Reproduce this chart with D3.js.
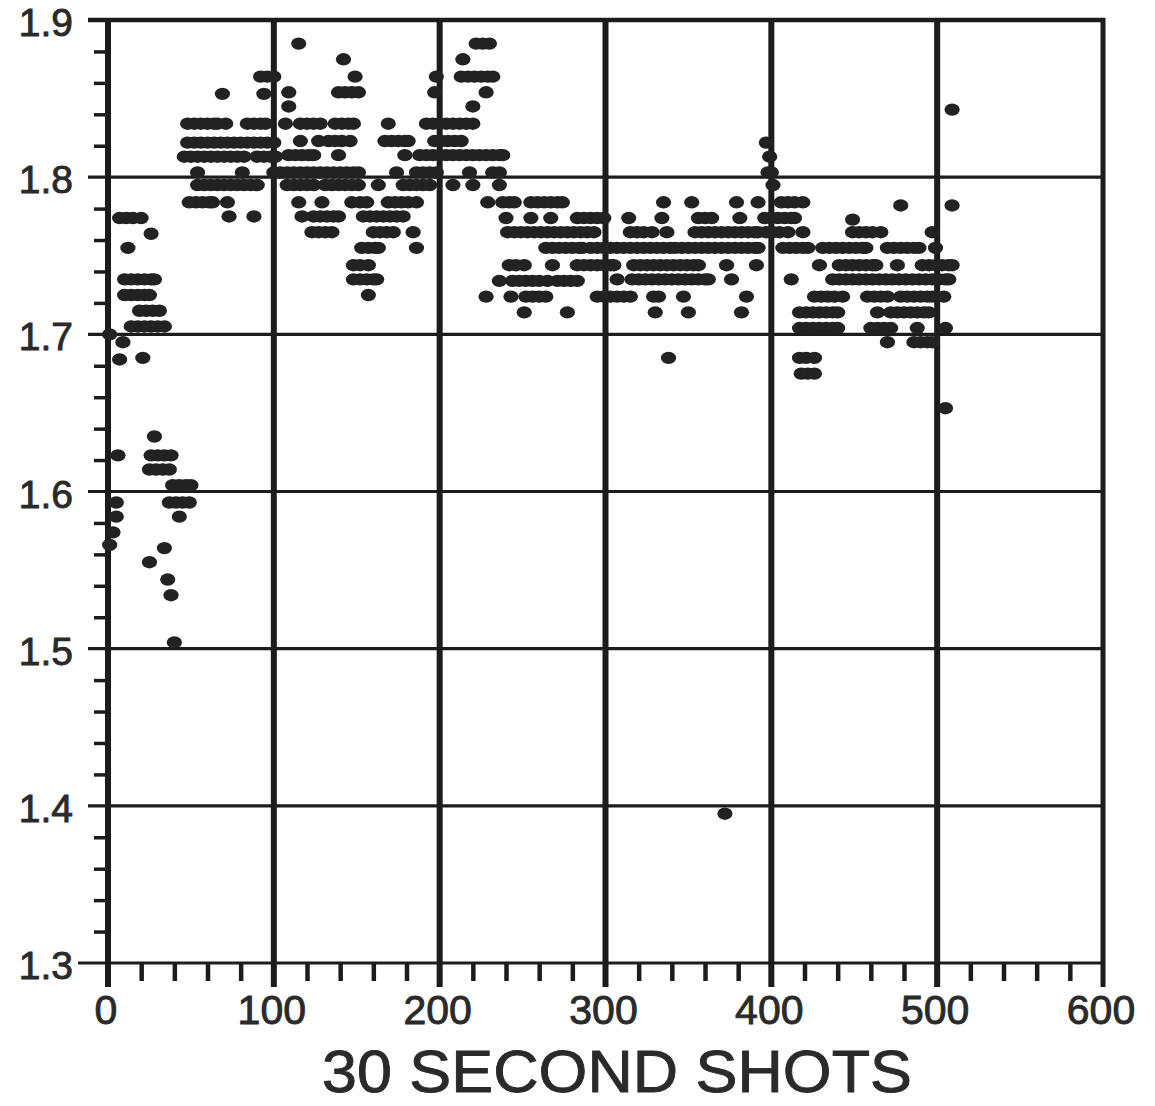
<!DOCTYPE html>
<html lang="en">

<head>
    <meta charset="UTF-8">
    <title>30 Second Shots</title>
    <script src="https://d3js.org/d3.v7.min.js"></script>
    <style>
        body { margin: 0; background: #fff; }
        text { font-family: "Liberation Sans", Arial, sans-serif; fill: #2a2a2a; stroke: #2a2a2a; stroke-width: 0.9px; }
    </style>
</head>

<body>
    <script>
        // Tick values
        var xMajor = [0, 100, 200, 300, 400, 500, 600];
        var yMajor = [1.3, 1.4, 1.5, 1.6, 1.7, 1.8, 1.9];
        var xLabels = ["0", "100", "200", "300", "400", "500", "600"];
        var yLabels = ["1.3", "1.4", "1.5", "1.6", "1.7", "1.8", "1.9"];
        var titleText = "30 SECOND SHOTS";

        // [shot, value], grouped by stretch of shots
        var shots0to50 = [
            [1, 1.566], [3, 1.574], [5, 1.584], [5, 1.593], [6, 1.623], [1, 1.700],
            [7, 1.684], [9, 1.695], [21, 1.685],
            [14, 1.705], [18, 1.705], [22, 1.705], [26, 1.705], [30, 1.705], [34, 1.705],
            [19, 1.715], [23, 1.715], [27, 1.715], [31, 1.715],
            [10, 1.725], [14, 1.725], [18, 1.725], [22, 1.725], [25, 1.725],
            [10, 1.735], [14, 1.735], [18, 1.735], [22, 1.735], [26, 1.735], [28, 1.735],
            [12, 1.755], [26, 1.764],
            [7, 1.774], [11, 1.774], [15, 1.774], [20, 1.774],
            [28, 1.635], [26, 1.623], [30, 1.623], [34, 1.623], [38, 1.623],
            [25, 1.614], [29, 1.614], [33, 1.614], [37, 1.614],
            [39, 1.604], [43, 1.604], [47, 1.604], [50, 1.604],
            [37, 1.593], [41, 1.593], [45, 1.593], [49, 1.593],
            [43, 1.584], [34, 1.564], [25, 1.555], [36, 1.544], [38, 1.534], [40, 1.504]
        ];

        var shots50to100 = [
            [92, 1.864], [96, 1.864], [100, 1.864],
            [69, 1.853], [94, 1.853],
            [48, 1.834], [52, 1.834], [56, 1.834], [60, 1.834], [64, 1.834], [66, 1.834], [71, 1.834],
            [84, 1.834], [88, 1.834], [92, 1.834], [95, 1.834],
            [48, 1.822], [52, 1.822], [56, 1.822], [60, 1.822], [64, 1.822], [68, 1.822], [72, 1.822],
            [76, 1.822], [80, 1.822], [84, 1.822], [88, 1.822], [92, 1.822], [96, 1.822], [100, 1.822],
            [46, 1.813], [50, 1.813], [54, 1.813], [58, 1.813], [62, 1.813], [66, 1.813], [70, 1.813],
            [74, 1.813], [78, 1.813], [82, 1.813], [90, 1.813], [94, 1.813], [98, 1.813], [101, 1.813],
            [54, 1.803], [81, 1.803],
            [54, 1.795], [58, 1.795], [62, 1.795], [66, 1.795], [70, 1.795], [74, 1.795], [78, 1.795],
            [82, 1.795], [86, 1.795], [90, 1.795],
            [49, 1.784], [53, 1.784], [57, 1.784], [61, 1.784], [63, 1.784], [72, 1.784],
            [73, 1.775], [88, 1.775]
        ];

        var shots100to200 = [
            [115, 1.885], [142, 1.875], [149, 1.864],
            [109, 1.854], [139, 1.854], [143, 1.854], [147, 1.854], [151, 1.854],
            [109, 1.845],
            [107, 1.834], [116, 1.834], [120, 1.834], [124, 1.834], [128, 1.834], [137, 1.834],
            [141, 1.834], [145, 1.834], [148, 1.834], [169, 1.834],
            [116, 1.823], [127, 1.823], [133, 1.823], [137, 1.823], [141, 1.823], [146, 1.823],
            [167, 1.823], [171, 1.823], [175, 1.823], [179, 1.823], [181, 1.823],
            [109, 1.814], [113, 1.814], [117, 1.814], [121, 1.814], [124, 1.814], [139, 1.814],
            [179, 1.814], [188, 1.814], [192, 1.814], [196, 1.814], [200, 1.814],
            [100, 1.803], [104, 1.803], [108, 1.803], [112, 1.803], [116, 1.803], [120, 1.803],
            [124, 1.803], [128, 1.803], [132, 1.803], [136, 1.803], [140, 1.803], [144, 1.803],
            [148, 1.803], [151, 1.803], [174, 1.803], [186, 1.803], [190, 1.803], [194, 1.803], [198, 1.803],
            [108, 1.795], [112, 1.795], [116, 1.795], [120, 1.795], [124, 1.795], [131, 1.795],
            [135, 1.795], [139, 1.795], [143, 1.795], [147, 1.795], [151, 1.795], [163, 1.795],
            [178, 1.795], [182, 1.795], [186, 1.795], [190, 1.795], [194, 1.795],
            [115, 1.784], [129, 1.784], [147, 1.784], [152, 1.784], [156, 1.784], [169, 1.784],
            [173, 1.784], [177, 1.784], [181, 1.784], [186, 1.784],
            [117, 1.775], [124, 1.775], [128, 1.775], [132, 1.775], [136, 1.775], [139, 1.775],
            [154, 1.775], [158, 1.775], [162, 1.775], [166, 1.775], [170, 1.775], [174, 1.775], [178, 1.775],
            [123, 1.765], [127, 1.765], [131, 1.765], [135, 1.765], [160, 1.765], [164, 1.765],
            [168, 1.765], [172, 1.765], [184, 1.765],
            [153, 1.755], [157, 1.755], [161, 1.755], [163, 1.755], [186, 1.755],
            [148, 1.744], [152, 1.744], [157, 1.744],
            [148, 1.735], [152, 1.735], [156, 1.735], [160, 1.735], [162, 1.735],
            [157, 1.725]
        ];

        var shots200to300 = [
            [222, 1.885], [226, 1.885], [230, 1.885],
            [214, 1.875],
            [198, 1.864], [213, 1.864], [217, 1.864], [221, 1.864], [225, 1.864], [229, 1.864], [232, 1.864],
            [197, 1.854], [228, 1.854],
            [220, 1.845],
            [192, 1.834], [196, 1.834], [200, 1.834], [204, 1.834], [208, 1.834], [212, 1.834],
            [216, 1.834], [220, 1.834],
            [197, 1.823], [201, 1.823], [205, 1.823], [209, 1.823], [213, 1.823],
            [204, 1.814], [208, 1.814], [212, 1.814], [216, 1.814], [220, 1.814], [224, 1.814],
            [228, 1.814], [232, 1.814], [236, 1.814], [238, 1.814],
            [218, 1.803], [232, 1.803], [236, 1.803],
            [208, 1.795], [220, 1.795], [236, 1.795],
            [229, 1.784], [238, 1.784], [242, 1.784], [245, 1.784], [255, 1.784], [259, 1.784],
            [263, 1.784], [267, 1.784], [271, 1.784], [274, 1.784],
            [240, 1.774], [255, 1.774], [267, 1.774], [283, 1.774], [287, 1.774], [291, 1.774],
            [295, 1.774], [299, 1.774],
            [241, 1.765], [245, 1.765], [249, 1.765], [253, 1.765], [257, 1.765], [261, 1.765],
            [265, 1.765], [269, 1.765], [273, 1.765], [277, 1.765], [281, 1.765], [285, 1.765],
            [289, 1.765], [293, 1.765],
            [264, 1.755], [268, 1.755], [272, 1.755], [276, 1.755], [280, 1.755], [284, 1.755],
            [286, 1.755], [291, 1.755], [295, 1.755], [299, 1.755], [303, 1.755],
            [242, 1.744], [246, 1.744], [251, 1.744], [268, 1.744], [283, 1.744], [287, 1.744],
            [291, 1.744], [295, 1.744], [299, 1.744], [303, 1.744], [305, 1.744],
            [236, 1.734], [244, 1.734], [248, 1.734], [252, 1.734], [256, 1.734], [260, 1.734],
            [265, 1.734], [271, 1.734], [275, 1.734], [279, 1.734], [283, 1.734],
            [228, 1.724], [243, 1.724], [252, 1.724], [256, 1.724], [260, 1.724], [264, 1.724],
            [295, 1.724], [299, 1.724], [303, 1.724], [307, 1.724], [311, 1.724], [315, 1.724],
            [251, 1.714], [277, 1.714]
        ];

        var shots300to400 = [
            [314, 1.774], [334, 1.774], [356, 1.774], [360, 1.774], [364, 1.774], [381, 1.774],
            [335, 1.784], [352, 1.784], [379, 1.784], [392, 1.784],
            [315, 1.765], [319, 1.765], [323, 1.765], [328, 1.765], [337, 1.765], [354, 1.765],
            [358, 1.765], [362, 1.765], [366, 1.765], [370, 1.765], [374, 1.765], [378, 1.765],
            [382, 1.765], [386, 1.765], [390, 1.765], [392, 1.765],
            [307, 1.755], [311, 1.755], [315, 1.755], [319, 1.755], [323, 1.755], [327, 1.755],
            [331, 1.755], [335, 1.755], [339, 1.755], [342, 1.755], [346, 1.755], [350, 1.755],
            [354, 1.755], [358, 1.755], [362, 1.755], [366, 1.755], [370, 1.755], [374, 1.755],
            [378, 1.755], [382, 1.755], [386, 1.755], [390, 1.755], [392, 1.755],
            [317, 1.744], [321, 1.744], [325, 1.744], [329, 1.744], [333, 1.744], [337, 1.744],
            [341, 1.744], [345, 1.744], [349, 1.744], [353, 1.744], [356, 1.744], [373, 1.744], [391, 1.744],
            [307, 1.735], [316, 1.735], [320, 1.735], [324, 1.735], [328, 1.735], [332, 1.735],
            [336, 1.735], [340, 1.735], [344, 1.735], [348, 1.735], [352, 1.735], [356, 1.735],
            [360, 1.735], [362, 1.735], [376, 1.735],
            [329, 1.724], [332, 1.724], [347, 1.724], [385, 1.724],
            [330, 1.714], [350, 1.714], [382, 1.714],
            [338, 1.685], [372, 1.395],
            [397, 1.822], [399, 1.813], [398, 1.803], [400, 1.803], [401, 1.795]
        ];

        var shots400to515 = [
            [406, 1.784], [410, 1.784], [414, 1.784], [419, 1.784],
            [396, 1.774], [400, 1.774], [404, 1.774], [408, 1.774], [412, 1.774], [414, 1.774],
            [397, 1.765], [401, 1.765], [405, 1.765], [410, 1.765], [419, 1.765], [449, 1.765],
            [453, 1.765], [457, 1.765], [461, 1.765], [466, 1.765], [497, 1.765],
            [449, 1.773],
            [407, 1.755], [411, 1.755], [415, 1.755], [419, 1.755], [422, 1.755], [431, 1.755],
            [435, 1.755], [439, 1.755], [443, 1.755], [447, 1.755], [451, 1.755], [455, 1.755],
            [457, 1.755], [470, 1.755], [474, 1.755], [478, 1.755], [482, 1.755], [486, 1.755],
            [489, 1.755], [499, 1.755],
            [429, 1.744], [441, 1.744], [445, 1.744], [449, 1.744], [453, 1.744], [457, 1.744],
            [461, 1.744], [463, 1.744], [476, 1.744], [491, 1.744], [495, 1.744], [499, 1.744],
            [503, 1.744], [507, 1.744], [509, 1.744],
            [412, 1.735], [437, 1.735], [441, 1.735], [445, 1.735], [449, 1.735], [453, 1.735],
            [457, 1.735], [461, 1.735], [465, 1.735], [469, 1.735], [473, 1.735], [477, 1.735],
            [481, 1.735], [485, 1.735], [489, 1.735], [493, 1.735], [497, 1.735], [501, 1.735],
            [505, 1.735], [507, 1.735],
            [426, 1.724], [430, 1.724], [434, 1.724], [438, 1.724], [443, 1.724], [458, 1.724],
            [462, 1.724], [466, 1.724], [470, 1.724], [478, 1.724], [482, 1.724], [486, 1.724],
            [490, 1.724], [494, 1.724], [497, 1.724], [504, 1.724],
            [417, 1.714], [421, 1.714], [425, 1.714], [429, 1.714], [433, 1.714], [437, 1.714],
            [440, 1.714], [464, 1.714], [472, 1.714], [476, 1.714], [480, 1.714], [484, 1.714],
            [488, 1.714], [492, 1.714], [495, 1.714],
            [417, 1.704], [421, 1.704], [425, 1.704], [429, 1.704], [433, 1.704], [437, 1.704],
            [440, 1.704], [460, 1.704], [464, 1.704], [468, 1.704], [472, 1.704], [488, 1.704], [505, 1.704],
            [470, 1.695], [486, 1.695], [490, 1.695], [494, 1.695], [497, 1.695],
            [417, 1.685], [421, 1.685], [426, 1.685], [418, 1.675], [422, 1.675], [426, 1.675],
            [505, 1.653], [509, 1.843], [478, 1.782], [509, 1.782]
        ];

        var allShots = [].concat(shots0to50, shots50to100, shots100to200,
            shots200to300, shots300to400, shots400to515);

        var width = 1155, height = 1106;
        var ink = "#1c1c1c";

        var x = d3.scaleLinear().domain([0, 600]).range([108, 1103]);
        var y = d3.scaleLinear().domain([1.3, 1.9]).range([963, 20]);

        var svg = d3.select("body").append("svg")
            .attr("width", width)
            .attr("height", height);

        // minor ticks along the bottom (every 20 shots)
        var xMinor = d3.range(20, 600, 20).filter(function (d) { return d % 100 !== 0; });
        svg.append("g")
            .attr("transform", "translate(0," + y(1.3) + ")")
            .call(d3.axisBottom(x).tickValues(xMinor).tickSize(18).tickFormat(""))
            .call(function (g) {
                g.select(".domain").remove();
                g.selectAll("line").attr("stroke", ink).attr("stroke-width", 4.5);
            });

        // minor ticks up the left side (every 0.02)
        var yMinor = d3.range(1.32, 1.9, 0.02).filter(function (d) {
            return Math.abs(d * 10 - Math.round(d * 10)) > 0.01;
        });
        svg.append("g")
            .attr("transform", "translate(" + x(0) + ",0)")
            .call(d3.axisLeft(y).tickValues(yMinor).tickSize(14).tickFormat(""))
            .call(function (g) {
                g.select(".domain").remove();
                g.selectAll("line").attr("stroke", ink).attr("stroke-width", 3.5);
            });

        // horizontal grid lines
        svg.append("g").selectAll("line")
            .data(yMajor)
            .enter().append("line")
            .attr("x1", function (d) { return d === 1.3 ? x(0) - 30 : x(0) - 20; })
            .attr("x2", x(600) + 2)
            .attr("y1", function (d) { return y(d); })
            .attr("y2", function (d) { return y(d); })
            .attr("stroke", ink)
            .attr("stroke-width", function (d) { return d === 1.9 ? 4.5 : 3.2; });

        // vertical grid lines, running a little below the axis
        svg.append("g").selectAll("line")
            .data(xMajor)
            .enter().append("line")
            .attr("x1", function (d) { return x(d); })
            .attr("x2", function (d) { return x(d); })
            .attr("y1", y(1.9) - 2)
            .attr("y2", y(1.3) + 24)
            .attr("stroke", ink)
            .attr("stroke-width", function (d) { return d === 600 ? 5 : 6; });

        // the shots
        svg.append("g").selectAll("ellipse")
            .data(allShots)
            .enter().append("ellipse")
            .attr("cx", function (d) { return x(d[0]); })
            .attr("cy", function (d) { return y(d[1]); })
            .attr("rx", 7.6)
            .attr("ry", 6.2)
            .attr("fill", "#222");

        // y labels
        svg.append("g").selectAll("text")
            .data(yMajor)
            .enter().append("text")
            .attr("x", 73)
            .attr("y", function (d) { return y(d) + 16; })
            .attr("text-anchor", "end")
            .style("font-size", "39px")
            .text(function (d, i) { return yLabels[i]; });

        // x labels
        svg.append("g").selectAll("text")
            .data(xMajor)
            .enter().append("text")
            .attr("x", function (d) { return x(d) - 2; })
            .attr("y", 1024)
            .attr("text-anchor", "middle")
            .style("font-size", "41px")
            .text(function (d, i) { return xLabels[i]; });

        // axis title
        svg.append("text")
            .attr("x", 617)
            .attr("y", 1092)
            .attr("text-anchor", "middle")
            .attr("textLength", 590)
            .attr("lengthAdjust", "spacingAndGlyphs")
            .style("font-size", "60px")
            .text(titleText);
    </script>
</body>

</html>
